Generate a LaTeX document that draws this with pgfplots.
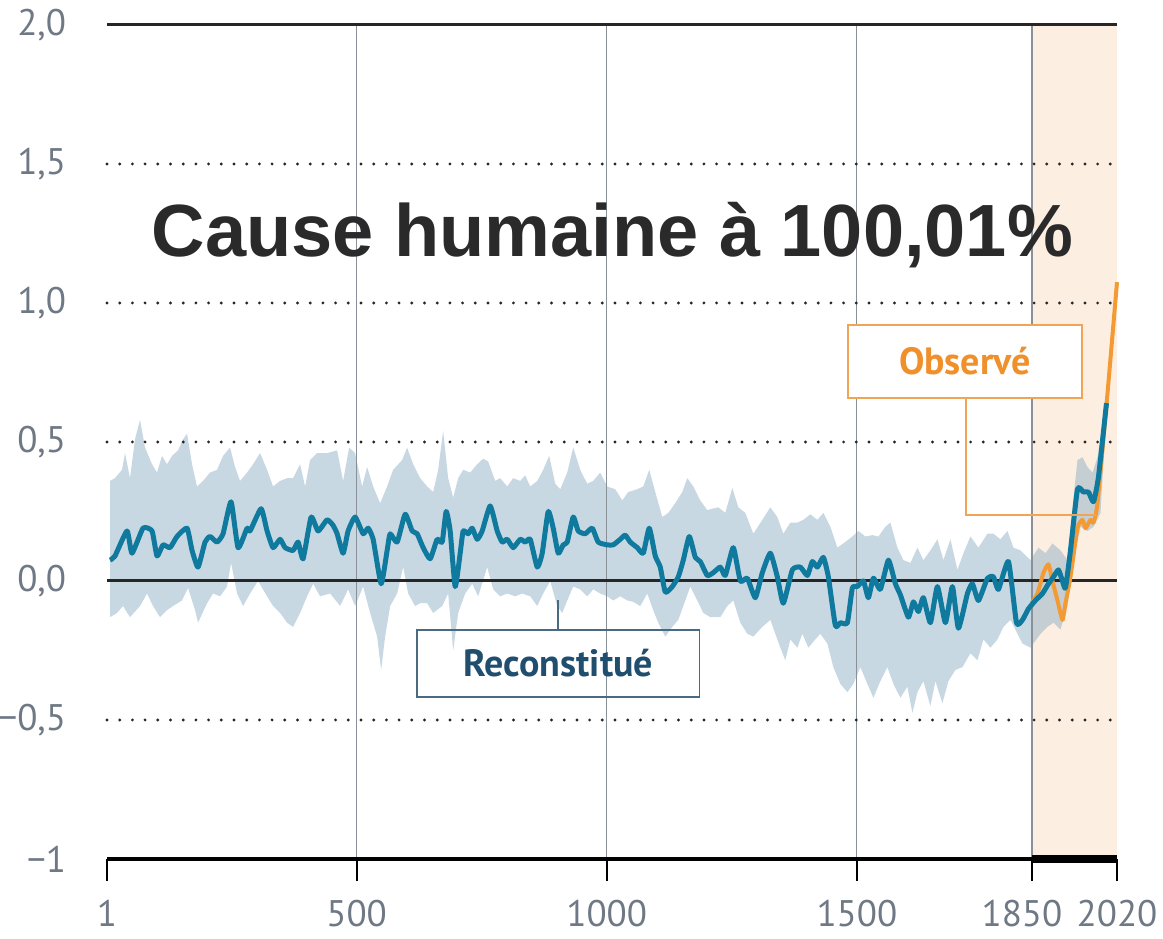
\documentclass[border=0pt]{standalone}
\usepackage{fontspec}
\setmainfont{PT Sans}
\newfontfamily\titlefont{Liberation Sans}
\usepackage{pgfplots}
\pgfplotsset{compat=1.18}
\usepgfplotslibrary{fillbetween}
\usetikzlibrary{calc}
\definecolor{blueline}{HTML}{107A9E}
\definecolor{orangeline}{HTML}{F39A33}
\definecolor{bandcol}{HTML}{7FA6C0}
\definecolor{bgorange}{HTML}{FDEEE2}
\definecolor{tickgray}{HTML}{6F7985}
\definecolor{gridgray}{HTML}{8A9098}
\definecolor{recbox}{HTML}{4A6A82}
\definecolor{rectext}{HTML}{1F4E6E}
\definecolor{obsbox}{HTML}{F2A456}
\definecolor{obstext}{HTML}{F0902A}
\definecolor{titlecol}{HTML}{2A2A2A}
\begin{document}
\begin{tikzpicture}
\begin{axis}[
  width=505pt, height=417pt, scale only axis,
  xmin=1, xmax=2020, ymin=-1, ymax=2,
  clip=false,
  axis line style={draw=none},
  xtick={1,500,1000,1500,1850,2020},
  xticklabels={1,500,1000,1500,{1850\hspace*{10pt}},2020},
  ytick={-1,-0.5,0,0.5,1,1.5,2},
  yticklabels={{−1},{−0,5},{0,0},{0,5},{1,0},{1,5},{2,0}},
  xtick pos=bottom, ytick pos=left,
  tick align=outside,
  major tick length=11pt,
  xtick style={draw=black, line width=1pt},
  ytick style={draw=none},
  ticklabel style={font=\fontsize{18.5}{20}\selectfont, text=tickgray},
  yticklabel style={anchor=east, xshift=-6pt},
  xticklabel style={anchor=north, yshift=-6pt},
]
% background of the recent period
\fill[bgorange] (axis cs:1850,-1) rectangle (axis cs:2020,2);

% uncertainty band
\addplot[name path=U, draw=none] coordinates {
(7,0.36) (17,0.37) (31,0.40) (37,0.46) (47,0.37) (57,0.51) (67,0.58) (77,0.48) (91,0.42) (101,0.39)
(111,0.45) (121,0.42) (131,0.45) (143,0.47) (153,0.51) (161,0.53) (171,0.42) (181,0.34) (193,0.36) (207,0.39)
(221,0.40) (233,0.45) (247,0.48) (257,0.41) (267,0.36) (281,0.39) (293,0.42) (307,0.46) (321,0.40) (333,0.34)
(347,0.36) (361,0.37) (373,0.37) (387,0.42) (397,0.34) (407,0.435) (421,0.46) (441,0.46) (461,0.47) (473,0.36)
(485,0.48) (497,0.46) (511,0.34) (521,0.41) (533,0.34) (547,0.28) (561,0.34) (573,0.40) (591,0.435) (601,0.48)
(613,0.42) (627,0.37) (641,0.34) (653,0.32) (663,0.40) (673,0.54) (683,0.37) (693,0.30) (703,0.37) (713,0.40)
(727,0.39) (741,0.42) (753,0.44) (763,0.43) (777,0.36) (787,0.37) (801,0.34) (813,0.37) (827,0.36) (837,0.38)
(847,0.34) (861,0.36) (873,0.40) (885,0.45) (897,0.35) (907,0.33) (921,0.39) (933,0.48) (947,0.40) (961,0.35)
(973,0.36) (987,0.39) (1001,0.34) (1017,0.33) (1031,0.29) (1043,0.32) (1061,0.33) (1073,0.34) (1085,0.40) (1097,0.32)
(1111,0.23) (1123,0.245) (1137,0.28) (1151,0.32) (1161,0.37) (1173,0.34) (1187,0.29) (1201,0.255) (1211,0.26) (1223,0.265)
(1237,0.245) (1251,0.335) (1263,0.265) (1277,0.245) (1293,0.17) (1311,0.22) (1327,0.265) (1341,0.23) (1353,0.17) (1367,0.21)
(1381,0.21) (1393,0.22) (1407,0.24) (1421,0.22) (1433,0.245) (1447,0.195) (1461,0.12) (1473,0.135) (1491,0.16) (1503,0.18)
(1517,0.16) (1531,0.165) (1543,0.16) (1557,0.195) (1567,0.21) (1581,0.12) (1593,0.075) (1607,0.065) (1621,0.12) (1633,0.075)
(1647,0.11) (1661,0.15) (1673,0.075) (1687,0.15) (1701,0.04) (1713,0.10) (1727,0.16) (1743,0.12) (1761,0.17) (1773,0.17)
(1787,0.15) (1801,0.18) (1813,0.12) (1827,0.11) (1847,0.075) (1863,0.12) (1877,0.10) (1891,0.135) (1907,0.11) (1921,0.075)
(1931,0.265) (1941,0.435) (1951,0.445) (1961,0.41) (1971,0.39) (1981,0.445) (1999,0.66)
};
\addplot[name path=L, draw=none] coordinates {
(7,-0.13) (21,-0.115) (33,-0.09) (47,-0.13) (67,-0.09) (81,-0.045) (93,-0.09) (107,-0.13) (121,-0.105) (133,-0.09)
(151,-0.07) (163,-0.025) (177,-0.105) (183,-0.15) (201,-0.08) (213,-0.045) (227,-0.055) (241,-0.02) (249,0.065) (261,-0.045)
(273,-0.09) (287,-0.045) (303,0.0) (321,-0.055) (333,-0.09) (347,-0.115) (361,-0.15) (373,-0.165) (387,-0.115) (401,-0.055)
(413,-0.01) (427,-0.055) (447,-0.045) (467,-0.09) (483,-0.03) (497,-0.09) (513,-0.02) (527,-0.115) (541,-0.2) (549,-0.32)
(557,-0.2) (567,-0.09) (581,-0.045) (593,0.05) (603,-0.045) (617,-0.09) (627,-0.08) (641,-0.08) (653,-0.115) (671,-0.09)
(683,-0.045) (693,-0.25) (703,-0.115) (717,-0.045) (731,-0.01) (743,-0.055) (761,0.05) (773,-0.03) (787,-0.055) (801,-0.045)
(817,-0.055) (831,-0.045) (847,-0.055) (861,-0.09) (873,-0.045) (887,0.0) (901,-0.09) (911,-0.115) (921,-0.07) (933,-0.02)
(947,-0.03) (961,-0.055) (973,-0.03) (987,-0.045) (1001,-0.055) (1013,-0.07) (1027,-0.055) (1041,-0.07) (1053,-0.075) (1067,-0.09)
(1081,-0.045) (1093,-0.105) (1103,-0.15) (1117,-0.2) (1131,-0.165) (1143,-0.14) (1153,-0.09) (1167,-0.02) (1181,-0.07) (1193,-0.115)
(1207,-0.13) (1227,-0.13) (1241,-0.09) (1253,-0.07) (1267,-0.15) (1281,-0.19) (1293,-0.2) (1311,-0.165) (1327,-0.14) (1347,-0.24)
(1357,-0.285) (1367,-0.21) (1381,-0.24) (1391,-0.19) (1403,-0.24) (1417,-0.21) (1427,-0.19) (1441,-0.225) (1453,-0.31) (1467,-0.37)
(1481,-0.40) (1493,-0.37) (1507,-0.31) (1521,-0.37) (1533,-0.42) (1547,-0.36) (1561,-0.31) (1573,-0.37) (1587,-0.42) (1601,-0.38)
(1611,-0.475) (1621,-0.40) (1633,-0.36) (1647,-0.45) (1657,-0.36) (1671,-0.44) (1683,-0.36) (1697,-0.32) (1711,-0.31) (1727,-0.26)
(1741,-0.285) (1753,-0.21) (1767,-0.24) (1781,-0.21) (1793,-0.165) (1807,-0.14) (1821,-0.19) (1831,-0.225) (1847,-0.24) (1867,-0.19)
(1881,-0.165) (1893,-0.15) (1907,-0.175) (1921,-0.09) (1933,0.075) (1947,0.195) (1961,0.18) (1973,0.195) (1987,0.245) (1999,0.62)
};
\addplot[fill=bandcol, fill opacity=0.44, draw=none] fill between[of=U and L, on layer=main];

% vertical grid lines
\foreach \xx in {500,1000,1500,1850}{
  \edef\tmp{\noexpand\draw[gridgray, line width=0.6pt] (axis cs:\xx,-1) -- (axis cs:\xx,2);}\tmp
}
% dotted horizontal lines
\foreach \yy in {-0.5,0.5,1,1.5}{
  \edef\tmp{\noexpand\draw[black!85, line width=1.6pt, line cap=round, dash pattern=on 0pt off 6.35pt] (axis cs:1,\yy) -- (axis cs:2020,\yy);}\tmp
}
% solid lines
\draw[black!85, line width=1.5pt] (axis cs:1,2) -- (axis cs:2020,2);
\draw[black!85, line width=1.5pt] (axis cs:1,0) -- (axis cs:2020,0);
\draw[black, line width=2.2pt] (axis cs:1,-1) -- (axis cs:2020,-1);
\draw[black, line width=4pt] (axis cs:1850,-1) -- (axis cs:2020,-1);

% observed
\addplot[orangeline, line width=2pt, line join=round, smooth, tension=0.3] coordinates {
(1849,-0.08) (1861,-0.045) (1873,0.03) (1883,0.06) (1891,0.0) (1901,-0.07) (1911,-0.14) (1917,-0.08) (1927,0.015)
(1941,0.19) (1951,0.22) (1957,0.19) (1967,0.22) (1973,0.21) (1981,0.28) (2001,0.675) (2020,1.075)
};

% reconstructed
\addplot[blueline, line width=2.5pt, line join=round, smooth, tension=0.3] coordinates {
(7,0.075) (17,0.09) (41,0.18) (51,0.10) (73,0.19) (91,0.18) (101,0.09) (113,0.13) (127,0.12) (141,0.16)
(161,0.19) (171,0.11) (183,0.05) (197,0.14) (207,0.16) (221,0.14) (233,0.17) (249,0.285) (263,0.12) (281,0.19)
(287,0.18) (309,0.26) (321,0.18) (333,0.12) (347,0.15) (357,0.12) (373,0.11) (383,0.14) (393,0.08) (409,0.23)
(423,0.18) (441,0.22) (453,0.20) (461,0.17) (473,0.10) (483,0.18) (497,0.23) (513,0.17) (523,0.19) (533,0.15)
(549,-0.01) (561,0.11) (567,0.17) (581,0.14) (597,0.24) (611,0.18) (621,0.17) (633,0.12) (647,0.08) (661,0.15)
(671,0.14) (679,0.25) (687,0.18) (697,-0.02) (707,0.10) (713,0.18) (723,0.17) (731,0.19) (741,0.15) (751,0.18)
(767,0.27) (781,0.18) (791,0.14) (801,0.15) (813,0.12) (827,0.15) (837,0.14) (847,0.15) (861,0.05) (871,0.10)
(883,0.25) (893,0.19) (903,0.10) (913,0.13) (921,0.14) (933,0.23) (943,0.18) (957,0.17) (971,0.19) (983,0.14)
(1001,0.13) (1013,0.13) (1027,0.15) (1037,0.165) (1047,0.14) (1061,0.12) (1073,0.10) (1085,0.19) (1097,0.09) (1107,0.05)
(1117,-0.04) (1131,-0.02) (1143,0.015) (1153,0.075) (1165,0.16) (1177,0.085) (1187,0.07) (1201,0.02) (1213,0.03) (1227,0.05)
(1237,0.02) (1253,0.12) (1267,0.0) (1281,0.01) (1297,-0.06) (1311,0.03) (1327,0.10) (1341,0.015) (1353,-0.08) (1371,0.04)
(1387,0.05) (1401,0.02) (1411,0.07) (1421,0.05) (1433,0.085) (1443,0.015) (1457,-0.16) (1467,-0.15) (1481,-0.15) (1491,-0.025)
(1501,-0.02) (1513,0.0) (1523,-0.06) (1533,0.01) (1547,-0.03) (1563,0.075) (1577,-0.01) (1587,-0.05) (1603,-0.13) (1613,-0.075)
(1623,-0.11) (1633,-0.06) (1647,-0.15) (1661,-0.02) (1677,-0.15) (1691,-0.02) (1703,-0.17) (1721,-0.045) (1731,-0.01) (1743,-0.07)
(1761,0.01) (1773,0.015) (1783,-0.03) (1803,0.07) (1819,-0.15) (1831,-0.14) (1843,-0.10) (1857,-0.07) (1871,-0.045) (1883,-0.01)
(1893,0.015) (1903,0.04) (1911,0.0) (1917,-0.025) (1927,0.11) (1941,0.33) (1953,0.32) (1963,0.32) (1973,0.285) (1983,0.375)
(1999,0.64)
};

% labels
\draw[recbox, line width=0.75pt] (axis cs:903,-0.068) -- (axis cs:903,-0.176);
\draw[recbox, line width=0.75pt] (axis cs:621,-0.176) rectangle (axis cs:1185,-0.417);
\node[text=rectext, font=\fontsize{19}{20}\selectfont\bfseries] at (axis cs:903,-0.297) {Reconstitué};

\draw[obsbox, line width=0.75pt] (axis cs:1718,0.658) |- (axis cs:1978,0.237);
\draw[obsbox, line width=0.75pt, fill=white] (axis cs:1482,0.921) rectangle (axis cs:1950,0.658);
\node[text=obstext, font=\fontsize{19}{20}\selectfont\bfseries] at (axis cs:1716,0.79) {Observé};

\node[text=titlecol, font=\titlefont\fontsize{37}{40}\selectfont\bfseries] at (axis cs:1011,1.245) {Cause humaine à 100,01\%};

\coordinate (SW) at (rel axis cs:0,0);
\coordinate (NE) at (rel axis cs:1,1);
\end{axis}
\pgfresetboundingbox
\path ($(SW)+(-53.5pt,-39.5pt)$) rectangle ($(NE)+(23pt,12.5pt)$);
\end{tikzpicture}
\end{document}
